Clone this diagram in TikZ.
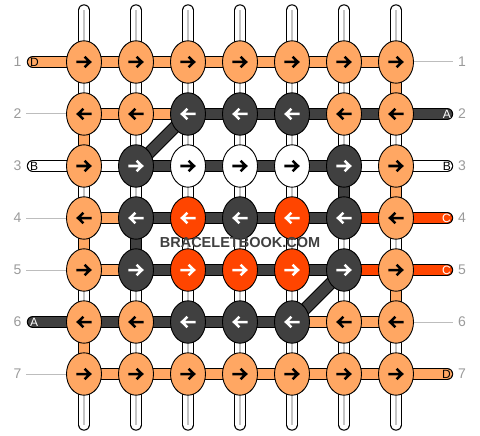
\documentclass[tikz,border=0pt]{standalone}
\usepackage{fontspec}
\setmainfont{Liberation Sans}
\usetikzlibrary{shapes.geometric}
\definecolor{cO}{HTML}{FFA763}
\definecolor{cD}{HTML}{404040}
\definecolor{cR}{HTML}{FF4500}
\definecolor{cW}{HTML}{FFFFFF}
\colorlet{aO}{black}\colorlet{aW}{black}\colorlet{aD}{white}\colorlet{aR}{white}
\definecolor{numgray}{HTML}{9A9A9A}
\definecolor{linegray}{HTML}{BDBDBD}
\definecolor{gW}{HTML}{C4C4C4}
\colorlet{gO}{cO}\colorlet{gD}{cD}\colorlet{gR}{cR}
\tikzset{
  bandout/.style={line width=12.4pt, draw=black},
  bandin/.style={line width=10.4pt},
  knot/.style={ellipse, draw=black, line width=0.9pt, minimum width=35pt, minimum height=42.4pt, inner sep=0pt},
  arr/.style={line width=2.5pt, line join=miter},
  rownum/.style={font=\fontsize{14}{14}\selectfont, text=numgray, inner sep=0pt},
  stublbl/.style={font=\fontsize{12}{12}\selectfont, inner sep=0pt},
  gline/.style={draw=linegray, line width=1pt},
}
\begin{document}
\begin{tikzpicture}[x=1pt,y=-1pt]
\useasboundingbox (0,0) rectangle (480,436);
% coordinates
\foreach \r in {1,...,7}{
  \foreach \c in {1,...,7}{
    \coordinate (p-\r-\c) at ({32+52*\c},{10+52*\r});
  }
  \coordinate (sl-\r) at (33,{10+52*\r});
  \coordinate (sr-\r) at (447,{10+52*\r});
  \coordinate (gl-\r) at (26,{10+52*\r});
  \coordinate (gr-\r) at (453,{10+52*\r});
}
\foreach \c in {1,...,7}{
  \coordinate (t-\c) at ({32+52*\c},10.5);
  \coordinate (b-\c) at ({32+52*\c},424.5);
}
% top and bottom strings
\foreach \c in {1,...,7}{
  \draw[bandout,line cap=round] (t-\c) -- (p-1-\c);
  \draw[bandin,line cap=round,draw=white] (t-\c) -- (p-1-\c);
  \draw[gW,line width=1.6pt] (t-\c) -- (p-1-\c);
  \draw[bandout,line cap=round] (b-\c) -- (p-7-\c);
  \draw[bandin,line cap=round,draw=white] (b-\c) -- (p-7-\c);
  \draw[gW,line width=1.6pt] (b-\c) -- (p-7-\c);
}
% vertical connectors between rows
\foreach \r/\list in {1/{W,W,W,W,W,W,O},2/{O,W,W,W,W,W,W},3/{W,W,W,W,W,D,O},4/{O,D,W,W,W,W,W},5/{W,W,W,W,W,W,O},6/{O,W,W,W,W,W,W}}{
  \pgfmathtruncatemacro\rn{\r+1}
  \foreach \col [count=\c] in \list {
    \draw[bandout] (p-\r-\c) -- (p-\rn-\c);
    \draw[bandin,draw=c\col] (p-\r-\c) -- (p-\rn-\c);
    \draw[g\col,line width=1.6pt] (p-\r-\c) -- (p-\rn-\c);
  }
}
% gray guide lines
\foreach \r in {2,4,5,7}{ \draw[gline] (gl-\r) -- (p-\r-1); }
\foreach \r in {1,6}{ \draw[gline] (p-\r-7) -- (gr-\r); }
% horizontal connectors
\foreach \r/\list in {1/{O,O,O,O,O,O},2/{O,O,D,D,D,D},3/{W,D,D,D,D,W},4/{O,D,D,D,D,R},5/{O,D,D,D,D,R},6/{D,D,D,D,O,O},7/{O,O,O,O,O,O}}{
  \foreach \col [count=\c] in \list {
    \pgfmathtruncatemacro\cn{\c+1}
    \draw[bandout] (p-\r-\c) -- (p-\r-\cn);
    \draw[bandin,draw=c\col] (p-\r-\c) -- (p-\r-\cn);
  }
}
% stubs
\foreach \r/\col/\t in {1/O/D,3/W/B,6/D/A}{
  \draw[bandout,line cap=round] (sl-\r) -- (p-\r-1);
  \draw[bandin,line cap=round,draw=c\col] (sl-\r) -- (p-\r-1);
  \node[stublbl,text=a\col,anchor=west] (ll-\r) at (30,{10+52*\r}) {\t};
}
\foreach \r/\col/\t in {2/D/A,3/W/B,4/R/C,5/R/C,7/O/D}{
  \draw[bandout,line cap=round] (p-\r-7) -- (sr-\r);
  \draw[bandin,line cap=round,draw=c\col] (p-\r-7) -- (sr-\r);
  \node[stublbl,text=a\col,anchor=east] (lr-\r) at (451,{10+52*\r}) {\t};
}
% diagonals
\draw[bandout] (p-2-3) -- (p-3-2);
\draw[bandin,draw=cD] (p-2-3) -- (p-3-2);
\draw[bandout] (p-5-6) -- (p-6-5);
\draw[bandin,draw=cD] (p-5-6) -- (p-6-5);
% knots
\foreach \r/\s/\list in {1/1/{O,O,O,O,O,O,O},2/-1/{O,O,D,D,D,O,O},3/1/{O,D,W,W,W,D,O},4/-1/{O,D,R,D,R,D,O},5/1/{O,D,R,R,R,D,O},6/-1/{O,O,D,D,D,O,O},7/1/{O,O,O,O,O,O,O}}{
  \foreach \col [count=\c] in \list {
    \node[knot,fill=c\col] (k-\r-\c) at (p-\r-\c) {};
    \draw[arr,draw=a\col,shift={(p-\r-\c)},xscale=\s] (-7.6,0) -- (5.8,0) (0.6,-5.2) -- (6,0) -- (0.6,5.2);
  }
}
% row numbers
\foreach \r in {1,...,7}{
  \node[rownum] (nl-\r) at (17.5,{10+52*\r}) {\r};
  \node[rownum] (nr-\r) at (462,{10+52*\r}) {\r};
}
% watermark
\node[font=\bfseries\fontsize{14.5}{14.5}\selectfont, text=cD, inner sep=0pt] (wm) at (240,243) {BRACELETBOOK.COM};
\end{tikzpicture}
\end{document}
